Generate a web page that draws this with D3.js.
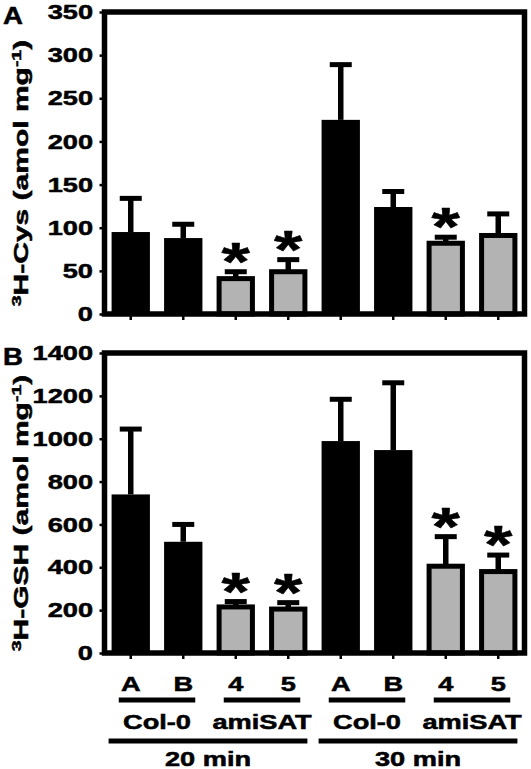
<!DOCTYPE html>
<html>
<head>
<meta charset="utf-8">
<script src="https://cdn.jsdelivr.net/npm/d3@7"></script>
<style>
  html, body { margin: 0; padding: 0; background: #fff; }
  text { font-family: "Liberation Sans", Arial, sans-serif; font-weight: bold; fill: #000; stroke: #000; stroke-width: 0.5px; }
</style>
</head>
<body>
<script>
const categories = ["A", "B", "4", "5", "A", "B", "4", "5"];
const genotypes = ["Col-0", "Col-0", "amiSAT", "amiSAT", "Col-0", "Col-0", "amiSAT", "amiSAT"];
const times = ["20 min", "20 min", "20 min", "20 min", "30 min", "30 min", "30 min", "30 min"];
const cysValues = [95, 88, 41, 49, 225, 124, 82, 91];
const cysErrors = [39, 16, 8, 14, 64, 18, 7, 25];
const cysStars = [false, false, true, true, false, false, true, false];
const gshValues = [740, 519, 215, 205, 989, 947, 405, 380];
const gshErrors = [305, 81, 25, 30, 195, 314, 138, 77];
const gshStars = [false, false, true, true, false, false, true, true];
const cysTicks = [0, 50, 100, 150, 200, 250, 300, 350];
const gshTicks = [0, 200, 400, 600, 800, 1000, 1200, 1400];

const W = 531, H = 769;
const FS = 20, SX = 1.36;
const svg = d3.select("body").append("svg").attr("width", W).attr("height", H);

// text with horizontal stretch (wide bold face)
function stext(parent, x, y, str, size, sx, anchor) {
  return parent.append("g").attr("transform", `translate(${x},${y})`)
    .append("text").attr("transform", `scale(${sx},1)`)
    .attr("text-anchor", anchor || "middle").attr("font-size", size).text(str);
}

const x = d3.scaleBand().domain(d3.range(8)).range([104.5, 524.5]).paddingInner(0.27).paddingOuter(0.135);
const bw = x.bandwidth();

function panel(opts) {
  const { top, bottom, max, ticks, values, errors, stars, letter, titleMain } = opts;
  const y = d3.scaleLinear().domain([0, max]).range([bottom, top]);
  const g = svg.append("g");

  // y axis ticks
  const ax = g.append("g").attr("transform", `translate(${x.range()[0]},0)`)
    .call(d3.axisLeft(y).tickValues(ticks).tickSizeInner(5).tickSizeOuter(0).tickFormat(""));
  ax.select(".domain").remove();
  ax.selectAll(".tick line").attr("stroke", "#000").attr("stroke-width", 2.5);
  ticks.forEach(t => {
    stext(g, 93, y(t), d3.format("d")(t), FS, SX, "end").attr("dy", "0.36em");
  });

  // bottom small ticks at bar centres
  const bx = g.append("g").attr("transform", `translate(0,${bottom})`)
    .call(d3.axisBottom(x).tickSizeInner(6).tickSizeOuter(0).tickFormat(""));
  bx.select(".domain").remove();
  bx.selectAll(".tick line").attr("stroke", "#000").attr("stroke-width", 2.5);

  // bars
  const idx = d3.range(8);
  const isCol = i => genotypes[i] === "Col-0";
  g.selectAll(".bar").data(idx).join("rect")
    .attr("x", i => isCol(i) ? x(i) : x(i) + 2.5)
    .attr("width", i => isCol(i) ? bw : bw - 5)
    .attr("y", i => y(values[i]))
    .attr("height", i => y(0) - y(values[i]))
    .attr("fill", i => isCol(i) ? "#000" : "#b3b3b3")
    .attr("stroke", i => isCol(i) ? "none" : "#000")
    .attr("stroke-width", 5);

  // error bars
  g.selectAll(".ev").data(idx).join("line")
    .attr("x1", i => x(i) + bw / 2).attr("x2", i => x(i) + bw / 2)
    .attr("y1", i => y(values[i])).attr("y2", i => y(values[i] + errors[i]))
    .attr("stroke", "#000").attr("stroke-width", 5.5);
  g.selectAll(".ec").data(idx).join("line")
    .attr("x1", i => x(i) + bw / 2 - 11).attr("x2", i => x(i) + bw / 2 + 11)
    .attr("y1", i => y(values[i] + errors[i])).attr("y2", i => y(values[i] + errors[i]))
    .attr("stroke", "#000").attr("stroke-width", 5);

  // stars
  idx.filter(i => stars[i]).forEach(i => {
    stext(g, x(i) + bw / 2, y(values[i] + errors[i]) + 8, "*", 54, 1.35, "middle")
      .attr("stroke-width", 2.4).attr("stroke-linejoin", "round");
  });

  // frame
  g.append("rect").attr("x", x.range()[0]).attr("y", top)
    .attr("width", x.range()[1] - x.range()[0]).attr("height", bottom - top)
    .attr("fill", "none").attr("stroke", "#000").attr("stroke-width", 5.5);

  // panel letter
  stext(g, 3, top + 12, letter, 23, 1.2, "start");

  // y title (stretched along text direction)
  const t = g.append("g")
    .attr("transform", `translate(28,${(top + bottom) / 2 + 10}) rotate(-90)`)
    .append("text").attr("transform", "scale(1.5,1)")
    .attr("text-anchor", "middle").attr("font-size", 20);
  t.append("tspan").attr("font-size", 13).attr("dy", -7).text("3");
  t.append("tspan").attr("dy", 7).text(titleMain + " (amol mg");
  t.append("tspan").attr("font-size", 13).attr("dy", -7).text("-1");
  t.append("tspan").attr("dy", 7).text(")");
}

panel({ top: 12, bottom: 314, max: 350, ticks: cysTicks, values: cysValues, errors: cysErrors, stars: cysStars, letter: "A", titleMain: "H-Cys" });
panel({ top: 353, bottom: 653, max: 1400, ticks: gshTicks, values: gshValues, errors: gshErrors, stars: gshStars, letter: "B", titleMain: "H-GSH" });

// x category labels
const cx = i => x(i) + bw / 2;
d3.range(8).forEach(i => stext(svg, cx(i), 691, categories[i], FS, SX, "middle"));

// genotype groups
const genoGroups = [[0, 1], [2, 3], [4, 5], [6, 7]];
genoGroups.forEach(([a, b]) => {
  svg.append("line").attr("x1", cx(a) - 12).attr("x2", cx(b) + 12)
    .attr("y1", 700).attr("y2", 700).attr("stroke", "#000").attr("stroke-width", 5);
  stext(svg, (cx(a) + cx(b)) / 2, 729, genotypes[a], FS, SX, "middle");
});

// time groups
const timeGroups = [[0, 3], [4, 7]];
timeGroups.forEach(([a, b]) => {
  svg.append("line").attr("x1", x(a) - 3).attr("x2", x(b) + bw)
    .attr("y1", 741).attr("y2", 741).attr("stroke", "#000").attr("stroke-width", 5);
  stext(svg, (x(a) - 3 + x(b) + bw) / 2, 766, times[a], FS, SX, "middle");
});
</script>
</body>
</html>
